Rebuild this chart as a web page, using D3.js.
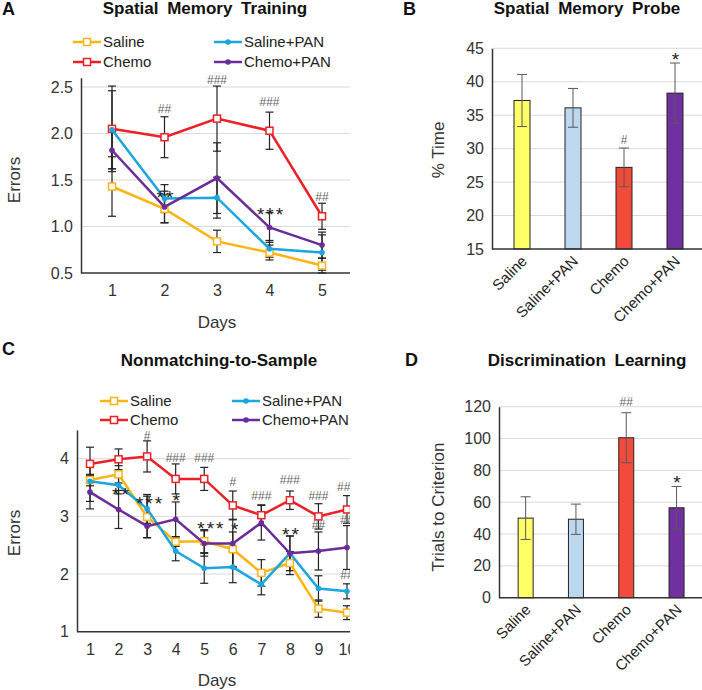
<!DOCTYPE html>
<html>
<head>
<meta charset="utf-8">
<script src="https://cdn.jsdelivr.net/npm/d3@7"></script>
<style>
  body { margin: 0; background: #fff; }
  svg { display: block; }
</style>
</head>
<body>
<svg id="fig" width="702" height="690"></svg>
<script>
// ---- data ----
const groups = ["Saline", "Saline+PAN", "Chemo", "Chemo+PAN"];

// A: spatial memory training (errors per day)
const daysA = [1, 2, 3, 4, 5];
const trainSaline = [1.43, 1.19, 0.84, 0.72, 0.58];
const trainSalineErr = [0.32, 0.15, 0.12, 0.08, 0.08];
const trainSalinePan = [2.04, 1.30, 1.31, 0.76, 0.72];
const trainSalinePanErr = [0.42, 0.15, 0.22, 0.09, 0.19];
const trainChemo = [2.05, 1.96, 2.16, 2.03, 1.11];
const trainChemoErr = [0.46, 0.22, 0.35, 0.20, 0.14];
const trainChemoPan = [1.82, 1.21, 1.52, 0.99, 0.80];
const trainChemoPanErr = [0.20, 0.17, 0.38, 0.16, 0.14];
const trainNotes = [[2, 2.27, "##"], [3, 2.58, "###"], [4, 2.34, "###"], [5, 1.32, "##"],
                    [2, 1.36, "**"], [4, 1.18, "***"]];

// B: spatial memory probe (% time)
const probeVals = [37.2, 36.1, 27.2, 38.3];
const probeErr = [3.9, 2.9, 2.9, 4.5];
const probeNotes = [["Chemo", 31.3, "#"], ["Chemo+PAN", 44.0, "*"]];

// C: nonmatching-to-sample (errors per day)
const daysC = [1, 2, 3, 4, 5, 6, 7, 8, 9, 10];
const dnmsSaline = [3.63, 3.73, 2.99, 2.56, 2.57, 2.43, 2.02, 2.19, 1.40, 1.33];
const dnmsSalineErr = [0.10, 0.15, 0.36, 0.08, 0.20, 0.30, 0.23, 0.20, 0.15, 0.12];
const dnmsSalinePan = [3.61, 3.54, 3.13, 2.40, 2.10, 2.12, 1.82, 2.36, 1.75, 1.70];
const dnmsSalinePanErr = [0.35, 0.15, 0.25, 0.17, 0.26, 0.27, 0.18, 0.30, 0.22, 0.13];
const dnmsChemo = [3.91, 3.99, 4.04, 3.65, 3.65, 3.19, 3.02, 3.28, 3.00, 3.12];
const dnmsChemoErr = [0.29, 0.18, 0.27, 0.26, 0.20, 0.25, 0.18, 0.16, 0.22, 0.24];
const dnmsChemoPan = [3.42, 3.12, 2.83, 2.95, 2.53, 2.53, 2.89, 2.36, 2.40, 2.46];
const dnmsChemoPanErr = [0.29, 0.33, 0.20, 0.30, 0.22, 0.42, 0.30, 0.30, 0.33, 0.38];
const dnmsNotes = [[3, 4.40, "#"], [4, 4.02, "###"], [5, 4.02, "###"], [6, 3.60, "#"],
                   [7, 3.36, "###"], [8, 3.63, "###"], [9, 3.36, "###"], [10, 3.52, "###"],
                   [9, 2.85, "##"], [10, 2.94, "##"], [10, 1.99, "##"],
                   [2.05, 3.45, "**"], [3.05, 3.30, "***"], [4, 3.35, "*"],
                   [5.2, 2.87, "***"], [6.05, 2.85, "*"], [8, 2.76, "**"]];

// D: discrimination learning (trials to criterion)
const discVals = [50.0, 49.3, 100.5, 56.5];
const discErr = [13.4, 9.5, 15.7, 13.4];
const discNotes = [["Chemo", 123, "##"], ["Chemo+PAN", 75, "*"]];

// ---- styling ----
const FONT = '"Liberation Sans", Arial, sans-serif';
const lineColor = { "Saline": "#ffb414", "Saline+PAN": "#1ba6e0", "Chemo": "#ec2027", "Chemo+PAN": "#6a2c9a" };
const barColor = ["#ffff66", "#bdd7ee", "#f34b3b", "#7030a0"];
const openMarker = { "Saline": true, "Saline+PAN": false, "Chemo": true, "Chemo+PAN": false };

const svg = d3.select("#fig").attr("font-family", FONT);

svg.append("defs").call(d => {
  d.append("clipPath").attr("id", "clipLeft").append("rect").attr("x", 0).attr("y", 0).attr("width", 350).attr("height", 690);
});

function marker(g, name, cx, cy) {
  if (openMarker[name]) {
    g.append("rect").attr("x", cx - 3.5).attr("y", cy - 3.5).attr("width", 7).attr("height", 7)
      .attr("fill", "#fff").attr("stroke", lineColor[name]).attr("stroke-width", 1.5);
  } else {
    g.append("circle").attr("cx", cx).attr("cy", cy).attr("r", 2.8).attr("fill", lineColor[name]);
  }
}

function note(g, x, y, txt) {
  const star = txt.includes("*");
  g.append("text")
    .attr("x", x + (star ? 1.5 : 0)).attr("y", y)
    .attr("dy", star ? "0.58em" : "0.36em")
    .attr("text-anchor", "middle")
    .attr("font-size", star ? 19 : 12)
    .attr("letter-spacing", star ? 2 : 0)
    .attr("fill", star ? "#222" : "#666")
    .text(txt);
}

function leftAxis(g, y, x0, ticks, fmt) {
  g.append("g")
    .attr("transform", `translate(${x0},0)`)
    .call(d3.axisLeft(y).tickValues(ticks).tickFormat(fmt).tickSize(0).tickPadding(8))
    .attr("font-family", FONT)
    .call(a => a.select(".domain").attr("stroke", "#333").attr("stroke-width", 1.5))
    .call(a => a.selectAll("text").attr("font-size", 16).attr("fill", "#333"));
}

function linePanel(cfg) {
  const g = svg.append("g").attr("clip-path", "url(#clipLeft)");
  const { x, y, days, series, axisX, axisY, right, ticks, fmt } = cfg;

  g.selectAll(null).data(ticks.slice(1)).join("line")
    .attr("x1", axisX).attr("x2", right)
    .attr("y1", d => y(d)).attr("y2", d => y(d))
    .attr("stroke", "#d9d9d9").attr("stroke-width", 1);

  leftAxis(g, y, axisX, ticks, fmt);

  g.append("line").attr("x1", axisX).attr("x2", right).attr("y1", axisY).attr("y2", axisY)
    .attr("stroke", "#333").attr("stroke-width", 1.5);

  g.append("g").attr("transform", `translate(0,${axisY})`)
    .call(d3.axisBottom(x).tickSize(0).tickPadding(12))
    .attr("font-family", FONT)
    .call(a => a.select(".domain").remove())
    .call(a => a.selectAll("text").attr("font-size", 16).attr("fill", "#333"));

  // error bars
  series.forEach(s => {
    s.vals.forEach((v, i) => {
      const cx = x(days[i]);
      const y0 = y(v - s.err[i]), y1 = y(v + s.err[i]);
      g.append("line").attr("x1", cx).attr("x2", cx).attr("y1", y0).attr("y2", y1)
        .attr("stroke", "#222").attr("stroke-width", 1.2);
      [y0, y1].forEach(yy => g.append("line").attr("x1", cx - 4).attr("x2", cx + 4)
        .attr("y1", yy).attr("y2", yy).attr("stroke", "#222").attr("stroke-width", 1.2));
    });
  });

  const line = d3.line().x((d, i) => x(days[i])).y(d => y(d));
  series.forEach(s => {
    g.append("path").datum(s.vals).attr("d", line)
      .attr("fill", "none").attr("stroke", lineColor[s.name]).attr("stroke-width", 2.5);
    s.vals.forEach((v, i) => marker(g, s.name, x(days[i]), y(v)));
  });

  const px = d3.scaleLinear().domain([days[0], days[days.length - 1]]).range(x.range());
  cfg.notes.forEach(n => note(g, px(n[0]), y(n[1]), n[2]));

  // legend
  const L = cfg.legend;
  const items = [["Saline", 0, 0], ["Saline+PAN", 1, 0], ["Chemo", 0, 1], ["Chemo+PAN", 1, 1]];
  items.forEach(([name, col, row]) => {
    const lx = L.x[col], ly = L.y + row * L.dy;
    g.append("line").attr("x1", lx).attr("x2", lx + 28).attr("y1", ly).attr("y2", ly)
      .attr("stroke", lineColor[name]).attr("stroke-width", 2.5);
    marker(g, name, lx + 14, ly);
    g.append("text").attr("x", lx + 30).attr("y", ly).attr("dy", "0.36em")
      .attr("font-size", 15).attr("fill", "#222").text(name);
  });

  g.append("text").attr("transform", `translate(${cfg.ylab[0]},${cfg.ylab[1]}) rotate(-90)`)
    .attr("text-anchor", "middle").attr("font-size", 17).attr("fill", "#333").text("Errors");
  g.append("text").attr("x", cfg.xlab[0]).attr("y", cfg.xlab[1]).attr("text-anchor", "middle")
    .attr("font-size", 17).attr("fill", "#333").text("Days");
}

function barPanel(cfg) {
  const g = svg.append("g");
  const { x, y, vals, err, axisX, axisY, ticks, bw } = cfg;

  g.selectAll(null).data(ticks.slice(1)).join("line")
    .attr("x1", axisX).attr("x2", 702)
    .attr("y1", d => y(d)).attr("y2", d => y(d))
    .attr("stroke", "#d9d9d9").attr("stroke-width", 1);

  leftAxis(g, y, axisX, ticks, d3.format("d"));

  g.selectAll(null).data(groups).join("rect")
    .attr("x", d => x(d) - bw / 2).attr("width", bw)
    .attr("y", (d, i) => y(vals[i])).attr("height", (d, i) => axisY - y(vals[i]))
    .attr("fill", (d, i) => barColor[i]).attr("stroke", "#222").attr("stroke-width", 1);

  groups.forEach((d, i) => {
    const cx = x(d), y0 = y(vals[i] - err[i]), y1 = y(vals[i] + err[i]);
    g.append("line").attr("x1", cx).attr("x2", cx).attr("y1", y0).attr("y2", y1).attr("stroke", "#595959");
    [y0, y1].forEach(yy => g.append("line").attr("x1", cx - 5).attr("x2", cx + 5)
      .attr("y1", yy).attr("y2", yy).attr("stroke", "#595959"));
  });

  g.append("line").attr("x1", axisX).attr("x2", 702).attr("y1", axisY).attr("y2", axisY)
    .attr("stroke", "#333").attr("stroke-width", 1.5);

  groups.forEach(d => {
    g.append("text")
      .attr("transform", `translate(${x(d) + 6},${axisY + 13}) rotate(-45)`)
      .attr("text-anchor", "end").attr("font-size", 15).attr("fill", "#222").text(d);
  });

  cfg.notes.forEach(n => note(g, x(n[0]), y(n[1]), n[2]));

  g.append("text").attr("transform", `translate(${cfg.ylab[0]},${cfg.ylab[1]}) rotate(-90)`)
    .attr("text-anchor", "middle").attr("font-size", 17).attr("fill", "#333").text(cfg.ytitle);
}

function title(x, y, txt) {
  svg.append("text").attr("x", x).attr("y", y).attr("text-anchor", "middle")
    .attr("font-size", 17).attr("font-weight", "bold").attr("word-spacing", 4).attr("fill", "#111").text(txt);
}
function letter(x, y, txt) {
  svg.append("text").attr("x", x).attr("y", y).attr("font-size", 18).attr("font-weight", "bold")
    .attr("fill", "#111").text(txt);
}

// ---- panel A ----
linePanel({
  x: d3.scalePoint().domain(daysA).range([112, 322]),
  y: d3.scaleLinear().domain([0.5, 2.6]).range([273, 77.7]),
  days: daysA, axisX: 81, axisY: 273, right: 350,
  ticks: [0.5, 1.0, 1.5, 2.0, 2.5], fmt: d3.format(".1f"),
  series: [
    { name: "Saline", vals: trainSaline, err: trainSalineErr },
    { name: "Chemo", vals: trainChemo, err: trainChemoErr },
    { name: "Saline+PAN", vals: trainSalinePan, err: trainSalinePanErr },
    { name: "Chemo+PAN", vals: trainChemoPan, err: trainChemoPanErr }
  ],
  notes: trainNotes,
  legend: { x: [73, 214], y: 42, dy: 20 },
  ylab: [20, 180], xlab: [217, 328]
});

// ---- panel C ----
linePanel({
  x: d3.scalePoint().domain(daysC).range([90, 347]),
  y: d3.scaleLinear().domain([1, 4.5]).range([631.7, 429.9]),
  days: daysC, axisX: 77, axisY: 631.7, right: 350,
  ticks: [1, 2, 3, 4], fmt: d3.format("d"),
  series: [
    { name: "Saline", vals: dnmsSaline, err: dnmsSalineErr },
    { name: "Chemo", vals: dnmsChemo, err: dnmsChemoErr },
    { name: "Saline+PAN", vals: dnmsSalinePan, err: dnmsSalinePanErr },
    { name: "Chemo+PAN", vals: dnmsChemoPan, err: dnmsChemoPanErr }
  ],
  notes: dnmsNotes,
  legend: { x: [100, 232], y: 401, dy: 19 },
  ylab: [20, 533], xlab: [217, 686]
});

// ---- panel B ----
barPanel({
  x: d3.scalePoint().domain(groups).range([496.5, 700.5]).padding(0.5),
  y: d3.scaleLinear().domain([15, 45]).range([249, 48.3]),
  vals: probeVals, err: probeErr, axisX: 492, axisY: 249, bw: 16,
  ticks: [15, 20, 25, 30, 35, 40, 45], notes: probeNotes,
  ylab: [444, 150], ytitle: "% Time"
});

// ---- panel D ----
barPanel({
  x: d3.scalePoint().domain(groups).range([500.5, 701.7]).padding(0.5),
  y: d3.scaleLinear().domain([0, 120]).range([597.7, 406.7]),
  vals: discVals, err: discErr, axisX: 499, axisY: 597.7, bw: 15,
  ticks: [0, 20, 40, 60, 80, 100, 120], notes: discNotes,
  ylab: [444, 507], ytitle: "Trials to Criterion"
});

title(205, 14, "Spatial Memory Training");
title(587, 14, "Spatial Memory Probe");
title(219, 366, "Nonmatching-to-Sample");
title(587, 366, "Discrimination Learning");
letter(2, 15, "A");
letter(403, 15, "B");
letter(2, 355, "C");
letter(405, 366, "D");
</script>
</body>
</html>
